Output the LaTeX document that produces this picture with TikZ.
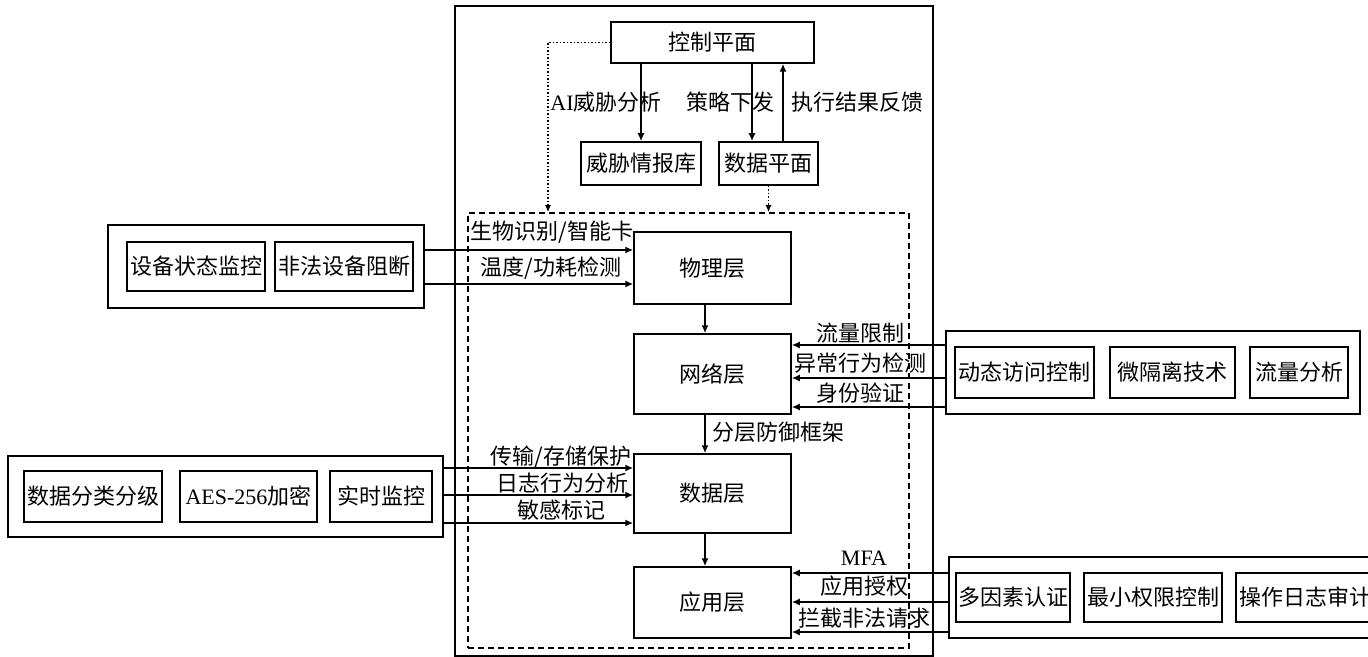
\documentclass[tikz,border=0pt]{standalone}
\usepackage{fontspec}
\setmainfont{Noto Sans CJK SC}
\newfontfamily\latin{Liberation Serif}
\usetikzlibrary{arrows.meta}
\begin{document}
\begin{tikzpicture}[x=0.5pt, y=-0.5pt, line width=0.75pt, font=\fontsize{11pt}{13pt}\selectfont,
  box/.style={draw, inner sep=0pt},
  arr/.style={-{Latex[length=4pt,width=3.5pt]}},
  dotarr/.style={densely dotted, -{Latex[length=3.5pt,width=3pt]}},
  lbl/.style={inner sep=0pt}]
\clip (0,0) rectangle (1368,657);
\node[box, minimum width=239pt, minimum height=325pt] (frame) at (694,331){};
\node[box, dash pattern=on 3pt off 2pt, minimum width=220.5pt, minimum height=217.5pt] (defbox) at (688.5,430.5){};
% control and data plane
\node[box, minimum width=101.5pt, minimum height=20.5pt] (ctrl) at (712.5,42.5){控制平面};
\node[box, minimum width=60pt, minimum height=21.5pt] (threat) at (641,163.5){威胁情报库};
\node[box, minimum width=49.5pt, minimum height=21.5pt] (dplane) at (768.5,163.5){数据平面};
\coordinate (pd) at (752,0);
\coordinate (pu) at (783,0);
\coordinate (dl) at (548,0);
\draw[arr](ctrl.south -| threat.north) -- (threat.north);
\draw[arr](pd |- ctrl.south) -- (pd |- dplane.north);
\draw[arr](pu |- dplane.north) -- (pu |- ctrl.south);
\draw[dotarr](ctrl.west) -| (dl |- defbox.north);
\draw[dotarr](dplane.south) -- (dplane.south |- defbox.north);
\node[lbl] (lai) at (606,102){{\latin AI}威胁分析};
\node[lbl] (lpol) at (730,102){策略下发};
\node[lbl] (lfb) at (857,102){执行结果反馈};
% layers
\node[box, minimum width=78.5pt, minimum height=36pt] (phys) at (712.5,268){物理层};
\node[box, minimum width=78.5pt, minimum height=40pt] (net) at (712.5,374){网络层};
\node[box, minimum width=78.5pt, minimum height=39.5pt] (datal) at (712.5,493.5){数据层};
\node[box, minimum width=78.5pt, minimum height=35.5pt] (app) at (712.5,602.5){应用层};
\coordinate (lx) at (705,0);
\draw[arr](lx |- phys.south) -- (lx |- net.north);
\draw[arr](lx |- net.south) -- (lx |- datal.north);
\draw[arr](lx |- datal.south) -- (lx |- app.north);
\node[lbl] (lfw) at (778,432){分层防御框架};
% physical layer group
\node[box, minimum width=158pt, minimum height=41.5pt] (grp1) at (266,266.5){};
\node[box, minimum width=69pt, minimum height=24.5pt] (g1m) at (196,266.5){设备状态监控};
\node[box, minimum width=69pt, minimum height=24.5pt] (g1b) at (344,266.5){非法设备阻断};
\coordinate (ya) at (0,250);
\coordinate (yb) at (0,284);
\draw[arr](ya -| grp1.east) -- (ya -| phys.west);
\draw[arr](yb -| grp1.east) -- (yb -| phys.west);
\node[lbl] (lbio) at (552,232){生物识别/智能卡};
\node[lbl] (ltmp) at (551,268){温度/功耗检测};
% data layer group
\node[box, minimum width=217.5pt, minimum height=40.5pt] (grp2) at (225.5,496.5){};
\node[box, minimum width=69pt, minimum height=25.5pt] (g2c) at (93,496.5){数据分类分级};
\node[box, minimum width=68.5pt, minimum height=25.5pt] (g2e) at (248.5,496.5){{\latin AES-256}加密};
\node[box, minimum width=51pt, minimum height=25.5pt] (g2m) at (381,496.5){实时监控};
\coordinate (yc) at (0,468);
\coordinate (yd) at (0,495);
\coordinate (ye) at (0,523);
\draw[arr](yc -| grp2.east) -- (yc -| datal.west);
\draw[arr](yd -| grp2.east) -- (yd -| datal.west);
\draw[arr](ye -| grp2.east) -- (ye -| datal.west);
\node[lbl] (lst) at (561,457){传输/存储保护};
\node[lbl] (llog) at (562,483){日志行为分析};
\node[lbl] (lsen) at (561,510){敏感标记};
% network layer group
\node[box, minimum width=207pt, minimum height=41.5pt] (grp3) at (1153,372.5){};
\node[box, minimum width=69.5pt, minimum height=25.5pt] (g3d) at (1024.5,372.5){动态访问控制};
\node[box, minimum width=62.5pt, minimum height=25.5pt] (g3i) at (1172.5,372.5){微隔离技术};
\node[box, minimum width=49pt, minimum height=25.5pt] (g3t) at (1299,372.5){流量分析};
\coordinate (yf) at (0,345);
\coordinate (yg) at (0,378);
\coordinate (yh) at (0,407);
\draw[arr](yf -| grp3.west) -- (yf -| net.east);
\draw[arr](yg -| grp3.west) -- (yg -| net.east);
\draw[arr](yh -| grp3.west) -- (yh -| net.east);
\node[lbl] (llim) at (860,333){流量限制};
\node[lbl] (labn) at (860,363){异常行为检测};
\node[lbl] (lid) at (860,393){身份验证};
% application layer group
\node[box, minimum width=218.5pt, minimum height=40.5pt] (grp4) at (1167.5,597.5){};
\node[box, minimum width=57pt, minimum height=24.5pt] (g4m) at (1013,597.5){多因素认证};
\node[box, minimum width=69pt, minimum height=24.5pt] (g4p) at (1153,597.5){最小权限控制};
\node[box, minimum width=69pt, minimum height=24.5pt] (g4a) at (1305,597.5){操作日志审计};
\coordinate (yi) at (0,573);
\coordinate (yj) at (0,602);
\coordinate (yk) at (0,632);
\draw[arr](yi -| grp4.west) -- (yi -| app.east);
\draw[arr](yj -| grp4.west) -- (yj -| app.east);
\draw[arr](yk -| grp4.west) -- (yk -| app.east);
\node[lbl] (lmfa) at (864,558){{\latin MFA}};
\node[lbl] (lauth) at (864,586){应用授权};
\node[lbl] (lblk) at (864,618){拦截非法请求};
\end{tikzpicture}
\end{document}
